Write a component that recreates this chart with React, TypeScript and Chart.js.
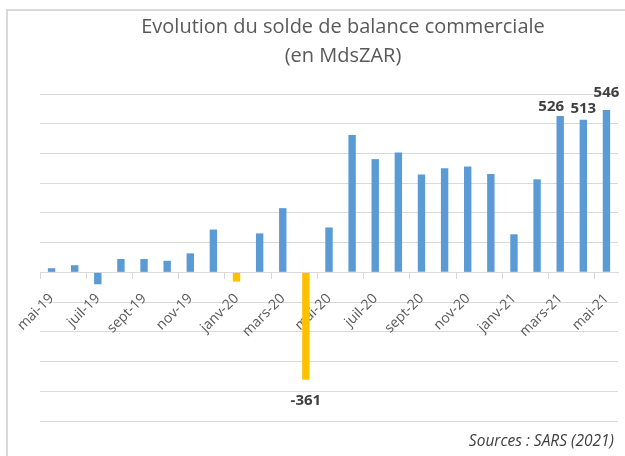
import React, { useEffect, useRef } from 'react';
import { Chart, registerables } from 'chart.js';

Chart.register(...registerables);

// ---- Data ----
const categories = [
  'mai-19', 'juin-19', 'juil-19', 'août-19', 'sept-19', 'oct-19', 'nov-19', 'déc-19',
  'janv-20', 'févr-20', 'mars-20', 'avr-20', 'mai-20', 'juin-20', 'juil-20', 'août-20',
  'sept-20', 'oct-20', 'nov-20', 'déc-20', 'janv-21', 'févr-21', 'mars-21', 'avr-21', 'mai-21',
];
const balance = [
  14, 24, -40, 45, 45, 39, 64, 144,
  -31, 131, 216, -361, 151, 462, 381, 403,
  329, 350, 356, 331, 128, 313, 526, 513, 546,
];
const highlightedIndices = [8, 11];
const labeledIndices = [11, 22, 23, 24];
const yMin = -500;
const yMax = 600;
const yStep = 100;
const titleLines = ['Evolution du solde de balance commerciale', '(en MdsZAR)'];
const sourceText = 'Sources : SARS (2021)';

// ---- Styles ----
const BLUE = '#5B9BD5';
const YELLOW = '#FFC000';
const GRID = '#d9d9d9';
const labelNudges: Record<number, [number, number]> = {
  11: [0, 11.5],
  22: [-9, 0],
  23: [0, -1.5],
  24: [0, -8],
};

const decorPlugin = {
  id: 'decor',
  beforeDraw(chart: any) {
    const ctx = chart.ctx;
    ctx.save();
    ctx.strokeStyle = GRID;
    ctx.lineWidth = 2;
    ctx.beginPath();
    ctx.moveTo(7, 456);
    ctx.lineTo(7, 10);
    ctx.lineTo(625, 10);
    ctx.stroke();
    ctx.restore();
  },
  afterDraw(chart: any) {
    const ctx = chart.ctx;
    ctx.save();
    ctx.fillStyle = '#595959';
    ctx.font = '20px "Open Sans"';
    ctx.textAlign = 'center';
    ctx.textBaseline = 'alphabetic';
    ctx.fillText(titleLines[0], 343, 33);
    ctx.fillText(titleLines[1], 343, 62);

    ctx.fillStyle = '#404040';
    ctx.font = 'italic 15.5px "Open Sans"';
    ctx.textAlign = 'right';
    ctx.fillText(sourceText, 614, 446);

    const meta = chart.getDatasetMeta(0);
    ctx.font = 'bold 15px "Open Sans"';
    ctx.fillStyle = '#404040';
    ctx.textAlign = 'center';
    ctx.textBaseline = 'middle';
    labeledIndices.forEach((i) => {
      const el = meta.data[i];
      const v = balance[i];
      const [dx, dy] = labelNudges[i] || [0, 0];
      const y = v >= 0 ? el.y - 9.5 + dy : el.y + 9.5 + dy;
      ctx.fillText(String(v), el.x + dx, y);
    });
    ctx.restore();
  },
};

export default function App() {
  const canvasRef = useRef<HTMLCanvasElement | null>(null);

  useEffect(() => {
    if (!canvasRef.current) return;
    const chart = new Chart(canvasRef.current, {
      type: 'bar',
      data: {
        labels: categories,
        datasets: [
          {
            data: balance,
            backgroundColor: balance.map((_, i) => (highlightedIndices.includes(i) ? YELLOW : BLUE)),
            barPercentage: 0.32,
            categoryPercentage: 1,
          },
        ],
      },
      options: {
        responsive: false,
        animation: false,
        layout: { padding: { top: 94, bottom: 35, left: 40, right: 7 } },
        plugins: {
          legend: { display: false },
          tooltip: { enabled: false },
          title: { display: false },
        },
        scales: {
          x: {
            position: { y: 0 } as any,
            z: 1,
            afterFit: (scale: any) => {
              scale.paddingLeft = 0;
              scale.paddingRight = 0;
            },
            grid: {
              offset: true,
              drawOnChartArea: false,
              drawTicks: true,
              tickLength: 6,
              color: (c: any) => (c.index !== undefined && c.index % 2 === 0 ? GRID : 'rgba(0,0,0,0)'),
            },
            border: { color: GRID },
            ticks: {
              autoSkip: false,
              maxRotation: 45,
              minRotation: 45,
              padding: 12,
              color: '#595959',
              font: { family: 'Open Sans', size: 14 },
              callback: (_v: any, i: number) => (i % 2 === 0 ? categories[i] : ''),
            },
          },
          y: {
            min: yMin,
            max: yMax,
            afterFit: (scale: any) => {
              scale.width = 0;
            },
            ticks: { display: false, stepSize: yStep },
            grid: { color: GRID, drawTicks: false },
            border: { display: false },
          },
        },
      },
      plugins: [decorPlugin],
    });
    return () => chart.destroy();
  }, []);

  return (
    <div style={{ position: 'absolute', left: 0, top: 0, width: 625, height: 456, background: '#fff' }}>
      <canvas ref={canvasRef} width={625} height={456} />
    </div>
  );
}
